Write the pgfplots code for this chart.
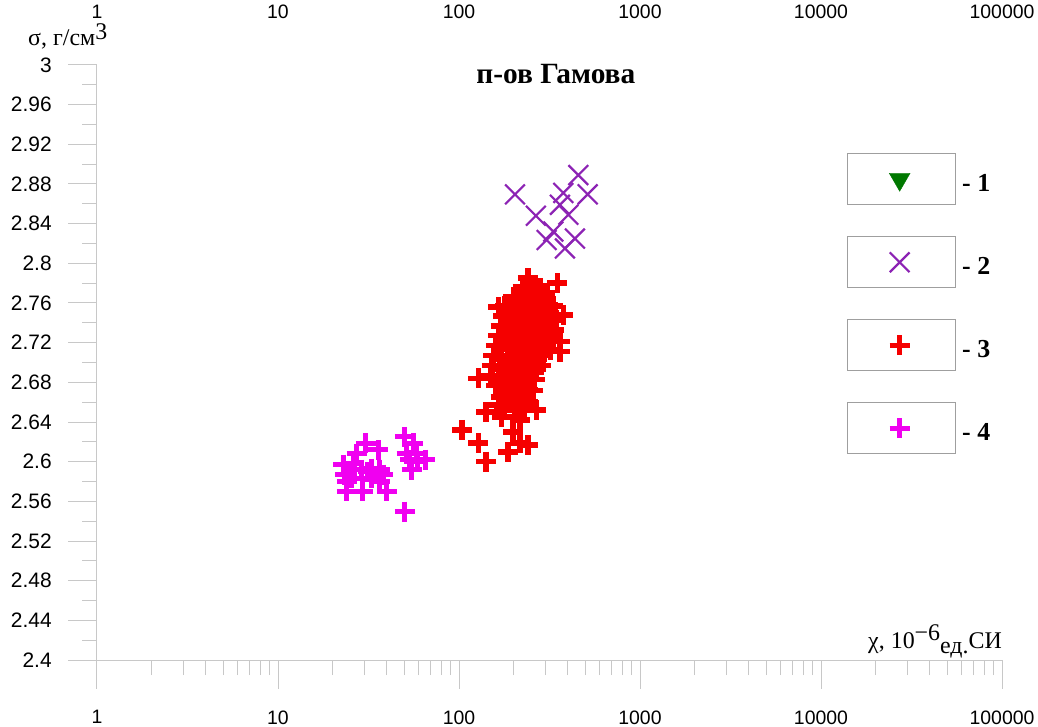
\documentclass[border=0pt]{standalone}
\usepackage{pgfplots}
\pgfplotsset{compat=1.18}
\usepackage{fontspec}
\setmainfont{Liberation Serif}
\newfontfamily\arial{Liberation Sans}
\definecolor{axgray}{RGB}{200,200,200}
\definecolor{cgreen}{RGB}{0,120,0}
\definecolor{cpurple}{RGB}{140,35,180}
\definecolor{cred}{RGB}{245,0,0}
\definecolor{cmag}{RGB}{240,0,240}
\pgfplotsset{
  boxleg/.style={legend image code/.code={
    \draw[draw=gray!75, line width=1bp, fill=white, solid] (0bp,-21bp) rectangle (108bp,30bp);
    \draw plot coordinates {(52bp,4.5bp)};
  }},
}
\tikzset{toplab/.style={anchor=center, yshift=53bp, font=\arial\fontsize{19.5}{20}\selectfont}}
\begin{document}
\begin{tikzpicture}
\useasboundingbox (-97bp,-67bp) rectangle (941bp,660bp);
\begin{axis}[
  at={(0,0)}, anchor=south west,
  width=905bp, height=595bp, scale only axis,
  xmode=log, xmin=1, xmax=100000, ymin=2.4, ymax=3,
  xtick={1,10,100,1000,10000,100000},
  xticklabels={1,10,100,1000,10000,100000},
  xticklabel style={font=\arial\fontsize{19.5}{20}\selectfont, yshift=-18bp},
  yticklabel style={font=\arial\fontsize{21}{22}\selectfont, xshift=-13bp,
    /pgf/number format/fixed, /pgf/number format/precision=2},
  /pgf/number format/assume math mode=true,
  axis x line*=bottom, axis y line*=left,
  axis line style={-, draw=axgray, line width=1bp},
  tick style={draw=axgray, line width=1bp},
  tick align=outside,
  major tick length=29bp, minor tick length=15bp,
  minor xtick={2,3,4,5,6,7,8,9,20,30,40,50,60,70,80,90,200,300,400,500,600,700,800,900,2000,3000,4000,5000,6000,7000,8000,9000,20000,30000,40000,50000,60000,70000,80000,90000},
  ytick={2.4,2.44,2.48,2.52,2.56,2.6,2.64,2.68,2.72,2.76,2.8,2.84,2.88,2.92,2.96,3},
  minor y tick num=1,
  clip=false,
  legend style={at={(axis description cs:0.8287,0.852)}, anchor=north west,
    draw=none, fill=none, inner sep=0pt, row sep=31bp, column sep=4bp,
    font=\bfseries\fontsize{26}{26}\selectfont},
  legend cell align=left,
]
\addlegendimage{boxleg, only marks, mark=triangle*, mark size=12bp, color=cgreen, mark options={rotate=180, solid}}
\addplot[boxleg, only marks, mark=x, mark size=14bp, color=cpurple, line width=2.2bp] coordinates {
(203.9,2.8696) (456,2.889) (377,2.871) (514,2.8696) (361,2.859) (402,2.849)
(266,2.848) (332,2.832) (437,2.825) (305,2.8235) (385,2.815)
};
\addplot[boxleg, only marks, mark=+, mark size=10bp, color=cred, line width=5.5bp] coordinates {
(240,2.785) (350,2.780) (165,2.756) (377,2.748) (361,2.721) (361,2.711) (128,2.684)
(141,2.650) (104,2.632) (128,2.619) (141,2.600) (187,2.610) (199,2.630) (217,2.619)
(240,2.617) (217,2.642) (268,2.652) (240,2.660) (165,2.657) (172,2.645) (187,2.665)
(257,2.672) (204,2.652) (180,2.677) (217,2.667) (299,2.770) (280,2.775) (212,2.763) (310,2.758)
(225,2.776) (262,2.776) (245,2.772)
(200,2.766) (235,2.766) (275,2.766) (218,2.762) (255,2.762) (300,2.762)
(180,2.757) (210,2.757) (248,2.757) (285,2.757) (330,2.757) (195,2.753) (228,2.753) (265,2.753) (310,2.753)
(175,2.747) (205,2.747) (240,2.747) (278,2.747) (320,2.747) (190,2.743) (222,2.743) (258,2.743) (298,2.743) (345,2.743)
(170,2.737) (198,2.737) (232,2.737) (270,2.737) (312,2.737) (182,2.733) (215,2.733) (250,2.733) (290,2.733) (335,2.733)
(165,2.727) (192,2.727) (225,2.727) (262,2.727) (305,2.727) (178,2.723) (208,2.723) (243,2.723) (282,2.723) (330,2.723)
(160,2.717) (188,2.717) (220,2.717) (256,2.717) (298,2.717) (172,2.713) (203,2.713) (238,2.713) (276,2.713) (320,2.713)
(155,2.707) (185,2.707) (216,2.707) (250,2.707) (292,2.707) (170,2.703) (200,2.703) (233,2.703) (270,2.703)
(152,2.697) (182,2.697) (213,2.697) (248,2.697) (285,2.697) (168,2.693) (198,2.693) (230,2.693) (268,2.693)
(150,2.687) (180,2.687) (210,2.687) (244,2.687) (165,2.683) (195,2.683) (226,2.683) (262,2.683)
(160,2.677) (190,2.677) (222,2.677) (175,2.673) (206,2.673) (240,2.673)
(170,2.665) (215,2.665) (196,2.661) (232,2.661) (178,2.655) (230,2.655)
};
\addplot[boxleg, only marks, mark=+, mark size=10bp, color=cmag, line width=5bp] coordinates {
(30.6,2.6185) (35.8,2.612) (27.2,2.608) (22.9,2.597) (26.1,2.598) (29.0,2.592)
(32.9,2.593) (36.6,2.592) (38.2,2.587) (24.0,2.580) (36.6,2.580) (39.9,2.570)
(24.0,2.570) (29.4,2.570) (26.6,2.592) (50.3,2.625) (55.9,2.6185) (51.4,2.608)
(58.4,2.608) (64.9,2.602) (54.8,2.592) (50.3,2.5496) (23.4,2.587) (31.4,2.590)
(25.6,2.5835) (33.0,2.5835) (53.6,2.602) (59.3,2.600)
};
\legend{- 1,- 2,- 3,- 4}
\node[anchor=base, font=\bfseries\fontsize{29.5}{30}\selectfont] at (axis description cs:0.507,0.9697) {п-ов Гамова};
\node[anchor=base west, font=\fontsize{24}{24}\selectfont, inner sep=0pt] at (axis description cs:-0.0762,1.0336) {σ, г/см\raisebox{6bp}{3}};
\node[anchor=base east, font=\fontsize{24}{24}\selectfont, inner sep=0pt] at (axis description cs:1,0.02) {χ, 10\raisebox{8bp}{−6}\raisebox{-5bp}{ед.}СИ};
\node[toplab] at (axis cs:1,3) {1};
\node[toplab] at (axis cs:10,3) {10};
\node[toplab] at (axis cs:100,3) {100};
\node[toplab] at (axis cs:1000,3) {1000};
\node[toplab] at (axis cs:10000,3) {10000};
\node[toplab] at (axis cs:100000,3) {100000};
\end{axis}
\end{tikzpicture}
\end{document}
